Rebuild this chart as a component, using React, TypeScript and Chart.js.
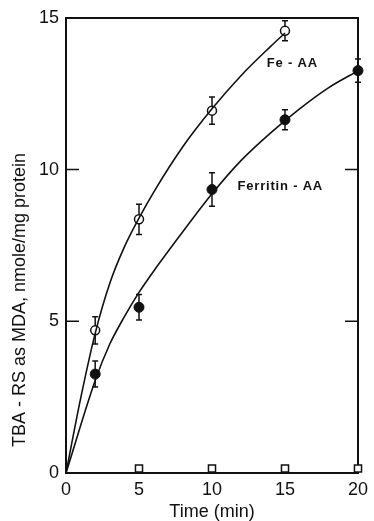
import React, { useEffect, useRef } from "react";
import { Chart, registerables } from "chart.js";

Chart.register(...registerables);

// Measured points (time in min, TBA-RS nmole/mg protein)
const feTime = [2, 5, 10, 15];
const feMean = [4.7, 8.36, 11.94, 14.57];
const feErr = [0.45, 0.5, 0.45, 0.33];

const ferritinTime = [2, 5, 10, 15, 20];
const ferritinMean = [3.26, 5.46, 9.34, 11.64, 13.26];
const ferritinErr = [0.43, 0.42, 0.55, 0.33, 0.38];

const controlTime = [5, 10, 15, 20];
const controlMean = [0.15, 0.15, 0.15, 0.15];

// Hand-drawn fitted curves
const feCurveX = [0, 1, 2, 3, 4, 5, 6, 8, 10, 12, 14, 15];
const feCurveY = [0, 2.45, 4.6, 6.25, 7.45, 8.4, 9.25, 10.75, 12.0, 13.1, 14.05, 14.5];

const ferCurveX = [0, 2, 3, 4, 5, 6, 8, 10, 12, 14, 16, 18, 20];
const ferCurveY = [0, 3.05, 4.25, 5.15, 5.95, 6.65, 7.95, 9.2, 10.3, 11.2, 12.0, 12.7, 13.25];

const xTicks = [0, 5, 10, 15, 20];
const yTicks = [0, 5, 10, 15];

const xTitle = "Time (min)";
const yTitle = "TBA - RS as MDA, nmole/mg protein";
const feLabel = "Fe - AA";
const ferritinLabel = "Ferritin - AA";

const FONT = "'Liberation Sans', Arial, sans-serif";
const INK = "#111";

const pts = (xs: number[], ys: number[]) => xs.map((x, i) => ({ x, y: ys[i] }));

export default function App() {
  const ref = useRef<HTMLCanvasElement | null>(null);

  useEffect(() => {
    if (!ref.current) return;

    const errorBars = {
      id: "errorBars",
      beforeDatasetsDraw(chart: any) {
        const { ctx, scales } = chart;
        const xs = scales.x;
        const ys = scales.y;
        const sets = [
          { t: feTime, m: feMean, e: feErr },
          { t: ferritinTime, m: ferritinMean, e: ferritinErr },
        ];
        ctx.save();
        ctx.strokeStyle = INK;
        ctx.lineWidth = 1.5;
        sets.forEach((s) => {
          s.t.forEach((t, i) => {
            const px = xs.getPixelForValue(t);
            const top = ys.getPixelForValue(s.m[i] + s.e[i]);
            const bot = ys.getPixelForValue(s.m[i] - s.e[i]);
            ctx.beginPath();
            ctx.moveTo(px, top);
            ctx.lineTo(px, bot);
            ctx.moveTo(px - 3, top);
            ctx.lineTo(px + 3, top);
            ctx.moveTo(px - 3, bot);
            ctx.lineTo(px + 3, bot);
            ctx.stroke();
          });
        });
        ctx.restore();
      },
    };

    const decorations = {
      id: "decorations",
      afterDraw(chart: any) {
        const { ctx, scales, chartArea } = chart;
        const xs = scales.x;
        const ys = scales.y;
        ctx.save();
        // inward ticks on left and right axes
        ctx.strokeStyle = INK;
        ctx.lineWidth = 1.5;
        [5, 10].forEach((v) => {
          const py = ys.getPixelForValue(v);
          ctx.beginPath();
          ctx.moveTo(chartArea.left, py);
          ctx.lineTo(chartArea.left + 13, py);
          ctx.moveTo(chartArea.right, py);
          ctx.lineTo(chartArea.right - 13, py);
          ctx.stroke();
        });
        // y-axis title
        ctx.fillStyle = INK;
        ctx.font = `18px ${FONT}`;
        ctx.textAlign = "center";
        ctx.textBaseline = "middle";
        ctx.translate(20, 300);
        ctx.rotate(-Math.PI / 2);
        ctx.fillText(yTitle, 0, 0);
        ctx.setTransform(1, 0, 0, 1, 0, 0);
        // curve labels
        ctx.font = `bold 13px ${FONT}`;
        ctx.textAlign = "left";
        (ctx as any).letterSpacing = "0.8px";
        ctx.fillText(feLabel, xs.getPixelForValue(13.75), ys.getPixelForValue(13.5));
        ctx.fillText(ferritinLabel, xs.getPixelForValue(11.75), ys.getPixelForValue(9.45));
        ctx.restore();
      },
    };

    const chart = new Chart(ref.current, {
      type: "scatter",
      data: {
        datasets: [
          {
            label: "Fe-AA curve",
            type: "line",
            data: pts(feCurveX, feCurveY),
            borderColor: INK,
            borderWidth: 1.6,
            pointRadius: 0,
            cubicInterpolationMode: "monotone",
            fill: false,
          } as any,
          {
            label: "Ferritin-AA curve",
            type: "line",
            data: pts(ferCurveX, ferCurveY),
            borderColor: INK,
            borderWidth: 1.6,
            pointRadius: 0,
            cubicInterpolationMode: "monotone",
            fill: false,
          } as any,
          {
            label: feLabel,
            data: pts(feTime, feMean),
            pointRadius: 4.5,
            pointBackgroundColor: "#fff",
            pointBorderColor: INK,
            pointBorderWidth: 1.5,
            clip: false,
          },
          {
            label: ferritinLabel,
            data: pts(ferritinTime, ferritinMean),
            pointRadius: 5,
            pointBackgroundColor: INK,
            pointBorderColor: INK,
            pointBorderWidth: 1,
            clip: false,
          },
          {
            label: "Control",
            data: pts(controlTime, controlMean),
            pointStyle: "rect",
            pointRadius: 5,
            pointBackgroundColor: "#fff",
            pointBorderColor: INK,
            pointBorderWidth: 1.5,
            clip: false,
          },
        ],
      },
      options: {
        animation: false,
        responsive: false,
        maintainAspectRatio: false,
        layout: { padding: 0 },
        plugins: { legend: { display: false }, tooltip: { enabled: false } },
        scales: {
          x: {
            type: "linear",
            position: "bottom",
            min: 0,
            max: 20,
            afterBuildTicks: (s: any) => {
              s.ticks = xTicks.map((v) => ({ value: v }));
            },
            ticks: { color: INK, font: { family: FONT, size: 18 }, padding: 6, maxRotation: 0 },
            grid: { display: true, drawOnChartArea: false, drawTicks: false },
            border: { display: true, color: INK, width: 2 },
            title: {
              display: true,
              text: xTitle,
              color: INK,
              font: { family: FONT, size: 18, lineHeight: 1 },
              padding: 0,
            },
            afterFit: (s: any) => {
              s.height = 48;
            },
          },
          xTop: {
            type: "linear",
            position: "top",
            min: 0,
            max: 20,
            ticks: { display: false },
            grid: { display: true, drawOnChartArea: false, drawTicks: false },
            border: { display: true, color: INK, width: 2 },
            afterFit: (s: any) => {
              s.height = 17;
            },
          },
          y: {
            type: "linear",
            position: "left",
            min: 0,
            max: 15,
            afterBuildTicks: (s: any) => {
              s.ticks = yTicks.map((v) => ({ value: v }));
            },
            ticks: { color: INK, font: { family: FONT, size: 18 }, padding: 7 },
            grid: { display: true, drawOnChartArea: false, drawTicks: false },
            border: { display: true, color: INK, width: 2 },
            afterFit: (s: any) => {
              s.width = 66;
            },
          },
          yRight: {
            type: "linear",
            position: "right",
            min: 0,
            max: 15,
            ticks: { display: false },
            grid: { display: true, drawOnChartArea: false, drawTicks: false },
            border: { display: true, color: INK, width: 2 },
            afterFit: (s: any) => {
              s.width = 11;
            },
          },
        },
      },
      plugins: [errorBars, decorations],
    } as any);

    return () => chart.destroy();
  }, []);

  return (
    <div style={{ position: "absolute", left: 0, top: 0, width: 374, height: 521, background: "#fff" }}>
      <canvas ref={ref} width={374} height={521} style={{ display: "block", width: 374, height: 521 }} />
    </div>
  );
}
